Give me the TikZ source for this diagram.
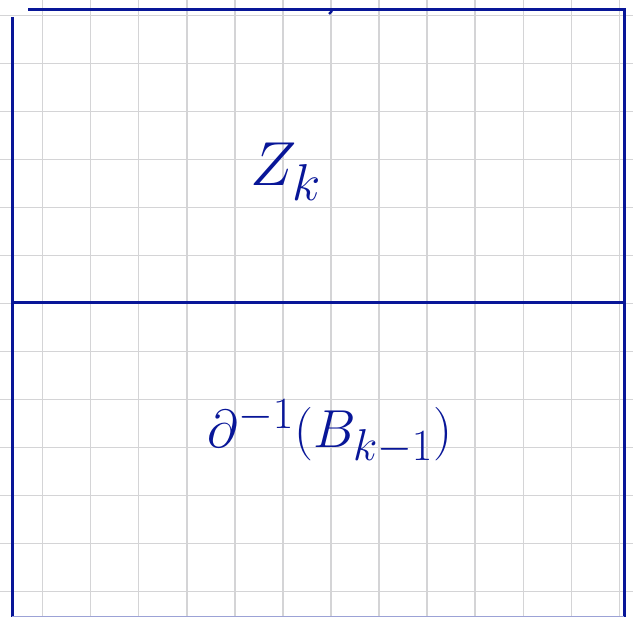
\documentclass[tikz,border=0pt]{standalone}
\definecolor{ink}{RGB}{8,22,152}
\definecolor{gridc}{RGB}{212,212,214}
\tikzset{
  gridline/.style={draw=gridc,line width=1.7pt},
  inkline/.style={draw=ink,line width=3pt},
  handtext/.style={text=ink,font=\Huge,scale=2.5}
}
\begin{document}
\begin{tikzpicture}[x=1pt,y=-1pt]
\fill[white] (0,0) rectangle (633,617);
\useasboundingbox (0,0) rectangle (633,617);
% grid
\foreach \i in {0,...,12} {
  \draw[gridline] ({42.4+48.1*\i},0) -- ({42.4+48.1*\i},617);
  \draw[gridline] (0,{15.6+48*\i}) -- (633,{15.6+48*\i});
}
% outline
\coordinate (tl) at (28,10);
\coordinate (tr) at (624,10);
\coordinate (br) at (624,617);
\coordinate (lt) at (12,17);
\coordinate (lb) at (12,617);
\coordinate (ml) at (12,303);
\coordinate (mr) at (624,303);
\draw[inkline] (tl) -- (tr) -- (br);
\draw[inkline] (lt) -- (lb);
\draw[inkline] (ml) -- (mr);
\draw[ink,line width=2.2pt] (332,11) -- (329,14);
\draw[ink!40,line width=1pt] (12,616.5) -- (624,616.5);
% labels
\node[handtext] (zk) at (286,172) {$Z_k$};
\node[handtext,scale=0.86] (dinv) at (330,432) {$\partial^{-1}(B_{k-1})$};
\end{tikzpicture}
\end{document}
